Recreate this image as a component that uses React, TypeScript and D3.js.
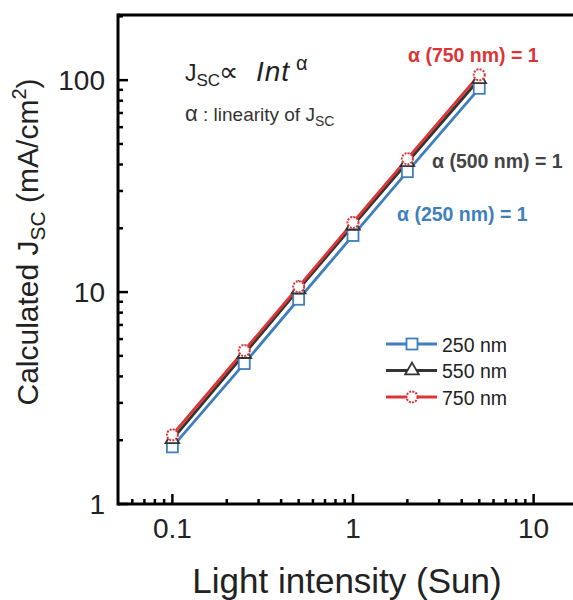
import React, { useEffect, useRef } from "react";
import * as d3 from "d3";

const intensities = [0.1, 0.25, 0.5, 1, 2, 5];
const j250 = [1.86, 4.6, 9.25, 18.5, 37, 91.5];
const j550 = [2.02, 5.1, 10.3, 20.6, 41, 101];
const j750 = [2.12, 5.3, 10.6, 21.3, 42.6, 106];
const seriesNames = ["250 nm", "550 nm", "750 nm"];
const seriesColors = ["#3f7fbd", "#333333", "#dd3535"];
const xTickValues = [0.1, 1, 10];
const yTickValues = [1, 10, 100];

const FONT = "'Liberation Sans', Arial, sans-serif";

export default function App() {
  const ref = useRef<SVGSVGElement>(null);

  useEffect(() => {
    const W = 573;
    const margin = { top: 15, left: 118 };
    const svg = d3.select(ref.current);
    svg.selectAll("*").remove();

    const x = d3.scaleLog().domain([0.05, 20]).range([margin.left, 588]);
    const y = d3.scaleLog().domain([1, 203]).range([504, margin.top]);

    const g = svg.append("g");

    // axes frame
    g.append("line").attr("x1", margin.left).attr("x2", W).attr("y1", margin.top).attr("y2", margin.top)
      .attr("stroke", "#000").attr("stroke-width", 3);
    g.append("line").attr("x1", margin.left).attr("x2", margin.left).attr("y1", margin.top - 1.5).attr("y2", 505.5)
      .attr("stroke", "#000").attr("stroke-width", 3);
    g.append("line").attr("x1", margin.left).attr("x2", W).attr("y1", 504).attr("y2", 504)
      .attr("stroke", "#000").attr("stroke-width", 3);

    // x ticks (inward)
    const xMinor: number[] = [];
    [0.01, 0.1, 1, 10].forEach(d => { for (let k = 2; k <= 9; k++) xMinor.push(d * k); });
    g.selectAll(".xminor").data(xMinor.filter(v => v > 0.05 && v < 20 && x(v) < W)).join("line")
      .attr("x1", d => x(d)).attr("x2", d => x(d)).attr("y1", 504).attr("y2", 499)
      .attr("stroke", "#000").attr("stroke-width", 2.5);
    g.selectAll(".xmajor").data(xTickValues).join("line")
      .attr("x1", d => x(d)).attr("x2", d => x(d)).attr("y1", 504).attr("y2", 494)
      .attr("stroke", "#000").attr("stroke-width", 2.5);
    g.selectAll(".xlab").data(xTickValues).join("text")
      .attr("x", d => x(d)).attr("y", 538).attr("text-anchor", "middle")
      .attr("font-family", FONT).attr("font-size", 28).attr("fill", "#222")
      .text(d => String(d));

    // y ticks (inward)
    const yMinor: number[] = [];
    [1, 10, 100].forEach(d => { for (let k = 2; k <= 9; k++) yMinor.push(d * k); });
    g.selectAll(".yminor").data(yMinor.filter(v => v < 203)).join("line")
      .attr("x1", margin.left).attr("x2", margin.left + 5).attr("y1", d => y(d)).attr("y2", d => y(d))
      .attr("stroke", "#000").attr("stroke-width", 2.5);
    g.selectAll(".ymajor").data(yTickValues).join("line")
      .attr("x1", margin.left).attr("x2", margin.left + 10).attr("y1", d => y(d)).attr("y2", d => y(d))
      .attr("stroke", "#000").attr("stroke-width", 2.5);
    g.selectAll(".ylab").data(yTickValues).join("text")
      .attr("x", 105).attr("y", d => y(d) + 10).attr("text-anchor", "end")
      .attr("font-family", FONT).attr("font-size", 28).attr("fill", "#222")
      .text(d => String(d));

    // axis titles
    g.append("text").attr("x", 347).attr("y", 593).attr("text-anchor", "middle")
      .attr("font-family", FONT).attr("font-size", 35).attr("fill", "#222")
      .text("Light intensity (Sun)");
    const yt = g.append("text").attr("transform", "translate(38,242) rotate(-90)").attr("text-anchor", "middle")
      .attr("font-family", FONT).attr("font-size", 30).attr("fill", "#222");
    yt.append("tspan").text("Calculated J");
    yt.append("tspan").attr("font-size", 21).attr("dy", 7).text("SC");
    yt.append("tspan").attr("dy", -7).text(" (mA/cm");
    yt.append("tspan").attr("font-size", 20).attr("dy", -12).text("2");
    yt.append("tspan").attr("dy", 12).text(")");

    // series
    const allSeries = [j250, j550, j750];
    const line = d3.line<number>().x((_, i) => x(intensities[i])).y(d => y(d));
    allSeries.forEach((vals, si) => {
      g.append("path").attr("d", line(vals)).attr("fill", "none")
        .attr("stroke", seriesColors[si]).attr("stroke-width", 2.8);
    });
    const marker = (sel: any, si: number, cx: number, cy: number) => {
      if (si === 0) {
        sel.append("rect").attr("x", cx - 5.5).attr("y", cy - 5.5).attr("width", 11).attr("height", 11)
          .attr("fill", "#fff").attr("stroke", seriesColors[0]).attr("stroke-width", 1.8);
      } else if (si === 1) {
        sel.append("path").attr("d", d3.symbol(d3.symbolTriangle, 80)()).attr("transform", `translate(${cx},${cy})`)
          .attr("fill", "#fff").attr("stroke", seriesColors[1]).attr("stroke-width", 1.8);
      } else {
        sel.append("circle").attr("cx", cx).attr("cy", cy).attr("r", 5.5)
          .attr("fill", "#fff").attr("stroke", seriesColors[2]).attr("stroke-width", 2)
          .attr("stroke-dasharray", "2,1.2");
      }
    };
    allSeries.forEach((vals, si) => {
      vals.forEach((v, i) => marker(g, si, x(intensities[i]), y(v)));
    });

    // legend
    seriesNames.forEach((name, si) => {
      const ly = 344 + si * 26.5;
      g.append("line").attr("x1", 386).attr("x2", 437).attr("y1", ly).attr("y2", ly)
        .attr("stroke", seriesColors[si]).attr("stroke-width", 2.8);
      marker(g, si, 412, ly);
      g.append("text").attr("x", 442).attr("y", ly + 7.5).attr("font-family", FONT).attr("font-size", 19.5)
        .attr("fill", "#222").text(name);
    });

    // annotations
    const a1 = g.append("text").attr("y", 81).attr("font-family", FONT).attr("font-size", 23).attr("fill", "#222");
    a1.append("tspan").attr("x", 185).text("J");
    a1.append("tspan").attr("font-size", 17).attr("dy", 5).text("SC");
    a1.append("tspan").attr("x", 219).attr("dy", -5).attr("font-size", 27).text("\u221D");
    a1.append("tspan").attr("x", 256).attr("font-style", "italic").attr("font-size", 28).attr("letter-spacing", 1).text("Int");
    a1.append("tspan").attr("x", 296).attr("font-size", 20).attr("dy", -11).text("\u03B1");
    const a2 = g.append("text").attr("y", 121).attr("font-family", FONT).attr("font-size", 19).attr("fill", "#333");
    a2.append("tspan").attr("x", 185).attr("font-size", 22).text("\u03B1");
    a2.append("tspan").text(" : linearity of J");
    a2.append("tspan").attr("font-size", 14).attr("dy", 5).text("SC");

    const labels = [
      { t: "\u03B1 (250 nm) = 1", x: 397, y: 221, c: seriesColors[0] },
      { t: "\u03B1 (500 nm) = 1", x: 432, y: 168, c: "#444" },
      { t: "\u03B1 (750 nm) = 1", x: 408, y: 62, c: seriesColors[2] },
    ];
    labels.forEach(l => {
      g.append("text").attr("x", l.x).attr("y", l.y).attr("font-family", FONT).attr("font-size", 19.5)
        .attr("font-weight", "bold").attr("fill", l.c).text(l.t);
    });
  }, []);

  return (
    <svg ref={ref} width={573} height={600}
      style={{ position: "absolute", left: 0, top: 0, background: "#fff" }} />
  );
}
